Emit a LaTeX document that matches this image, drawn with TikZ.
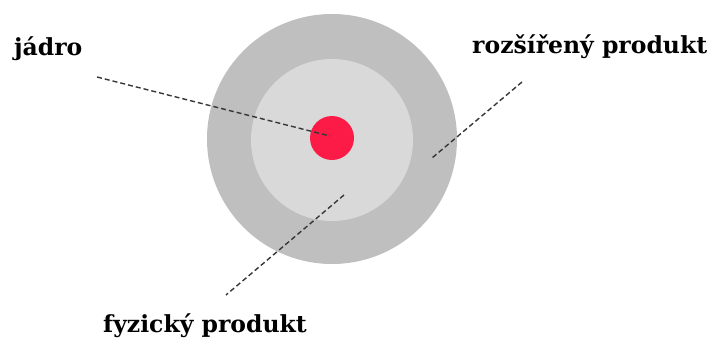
\documentclass[tikz,border=0pt]{standalone}
\usepackage{fontspec}
\setmainfont{DejaVu Serif}
\definecolor{outergray}{RGB}{191,191,191}
\definecolor{innergray}{RGB}{217,217,217}
\definecolor{corered}{RGB}{252,27,70}
\definecolor{linegray}{RGB}{55,55,55}
\begin{document}
\begin{tikzpicture}[x=1pt,y=-1pt,
  lbl/.style={anchor=base west,inner sep=0pt,font=\bfseries\fontsize{23.5}{27}\selectfont},
  ring/.style={circle,draw=none,inner sep=0pt},
  leader/.style={draw=linegray,line width=1.4pt,dash pattern=on 5pt off 3pt}]
\useasboundingbox (0,0) rectangle (714,345);
\node[ring,fill=outergray,minimum size=250pt] (outer) at (332,139) {};
\node[ring,fill=innergray,minimum size=162pt] (inner) at (332,140) {};
\node[ring,fill=corered,minimum size=44pt] (core) at (332,138) {};
\node[lbl] (jadro) at (14,56) {jádro};
\node[lbl] (rozs) at (472,54) {rozšířený produkt};
\node[lbl] (fyz) at (103,332) {fyzický produkt};
\coordinate (j1) at (97,77);
\coordinate (j2) at (330,136);
\coordinate (r1) at (522,82);
\coordinate (r2) at (432,158);
\coordinate (f1) at (344,195);
\coordinate (f2) at (226,295);
\draw[leader] (j1) -- (j2);
\draw[leader] (r1) -- (r2);
\draw[leader] (f1) -- (f2);
\end{tikzpicture}
\end{document}
